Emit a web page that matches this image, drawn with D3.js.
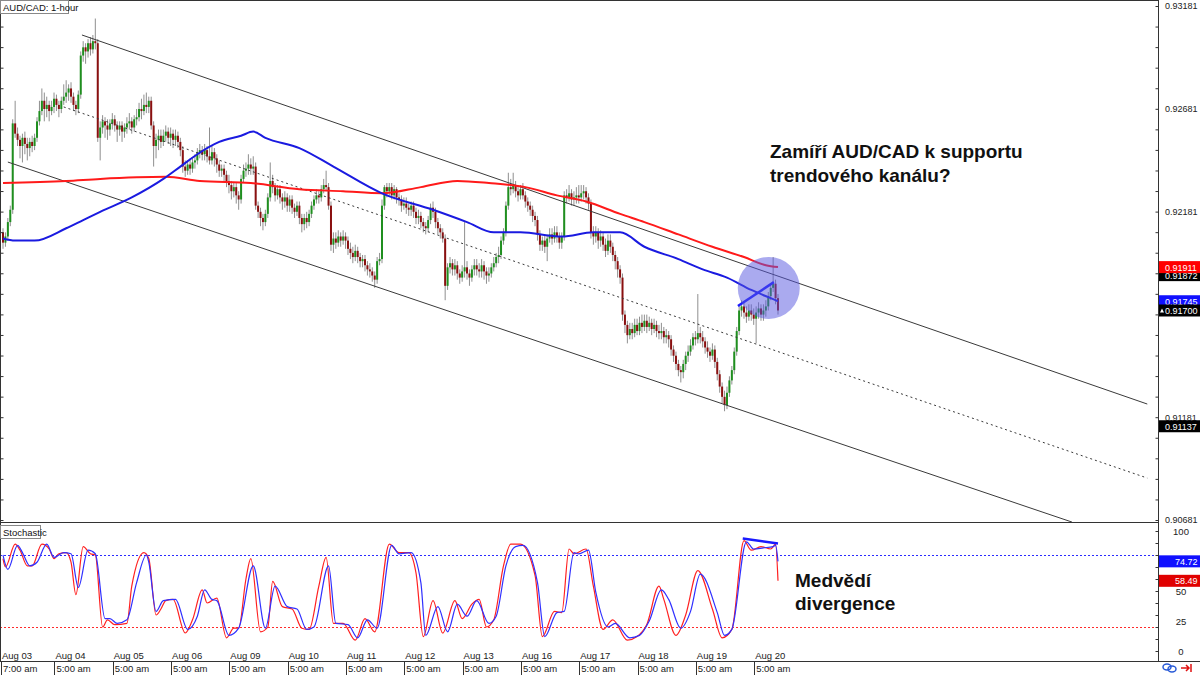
<!DOCTYPE html>
<html><head><meta charset="utf-8">
<script src="https://cdn.jsdelivr.net/npm/d3@7"></script>
<style>
body{margin:0;background:#fff}
svg{display:block}
.ax text,.lbl{font-family:'Liberation Sans',Arial,sans-serif;font-size:9.5px}
.ax text.num,.lbl.num{font-size:9px}
.note{font-family:'Liberation Sans',Arial,sans-serif;font-weight:bold;font-size:19px;fill:#111}
</style>
</head><body>
<svg id="c" width="1200" height="675"></svg>
<script>
// ---------- DATA (AUD/CAD 1-hour, candle index 0 = Aug 03 07:00) ----------
const open=[0.9208,0.9203,0.9206,0.9213,0.9219,0.9261,0.9256,0.9253,0.9250,0.9254,
0.9251,0.9249,0.9252,0.9250,0.9254,0.9262,0.9267,0.9272,0.9268,0.9270,
0.9267,0.9269,0.9273,0.9270,0.9268,0.9272,0.9274,0.9276,0.9278,0.9274,
0.9270,0.9268,0.9275,0.9294,0.9298,0.9296,0.9300,0.9297,0.9301,0.9300,
0.9254,0.9259,0.9262,0.9260,0.9258,0.9261,0.9263,0.9260,0.9258,0.9260,
0.9257,0.9259,0.9261,0.9262,0.9259,0.9263,0.9264,0.9268,0.9267,0.9270,
0.9269,0.9272,0.9260,0.9250,0.9253,0.9255,0.9252,0.9255,0.9257,0.9254,
0.9256,0.9253,0.9255,0.9252,0.9248,0.9240,0.9238,0.9241,0.9239,0.9242,
0.9243,0.9247,0.9248,0.9246,0.9248,0.9245,0.9243,0.9247,0.9244,0.9241,
0.9238,0.9239,0.9236,0.9233,0.9231,0.9228,0.9230,0.9226,0.9224,0.9234,
0.9238,0.9239,0.9241,0.9239,0.9240,0.9221,0.9218,0.9215,0.9213,0.9217,
0.9225,0.9233,0.9230,0.9226,0.9229,0.9225,0.9223,0.9225,0.9221,0.9224,
0.9220,0.9218,0.9221,0.9215,0.9212,0.9215,0.9213,0.9217,0.9221,0.9224,
0.9226,0.9225,0.9229,0.9231,0.9230,0.9221,0.9202,0.9205,0.9203,0.9206,
0.9204,0.9206,0.9204,0.9200,0.9198,0.9196,0.9199,0.9196,0.9194,0.9195,
0.9192,0.9190,0.9189,0.9187,0.9185,0.9194,0.9195,0.9221,0.9230,0.9228,
0.9230,0.9226,0.9229,0.9225,0.9224,0.9221,0.9222,0.9220,0.9219,0.9221,
0.9218,0.9215,0.9216,0.9213,0.9211,0.9210,0.9214,0.9220,0.9218,0.9213,
0.9210,0.9208,0.9205,0.9182,0.9191,0.9193,0.9190,0.9192,0.9188,0.9186,
0.9189,0.9191,0.9188,0.9186,0.9190,0.9192,0.9190,0.9189,0.9192,0.9189,
0.9187,0.9188,0.9191,0.9193,0.9196,0.9197,0.9204,0.9208,0.9221,0.9230,
0.9229,0.9231,0.9228,0.9226,0.9229,0.9226,0.9223,0.9221,0.9219,0.9216,
0.9214,0.9207,0.9202,0.9204,0.9201,0.9205,0.9207,0.9205,0.9208,0.9206,
0.9203,0.9206,0.9226,0.9225,0.9227,0.9224,0.9225,0.9226,0.9225,0.9227,
0.9228,0.9225,0.9222,0.9208,0.9206,0.9208,0.9204,0.9206,0.9202,0.9199,
0.9204,0.9201,0.9197,0.9194,0.9190,0.9186,0.9168,0.9163,0.9158,0.9161,
0.9159,0.9163,0.9160,0.9164,0.9162,0.9165,0.9162,0.9164,0.9161,0.9163,
0.9160,0.9159,0.9160,0.9157,0.9158,0.9156,0.9151,0.9148,0.9144,0.9141,
0.9140,0.9144,0.9148,0.9150,0.9153,0.9157,0.9156,0.9159,0.9157,0.9155,
0.9152,0.9150,0.9148,0.9151,0.9145,0.9139,0.9133,0.9128,0.9124,0.9130,
0.9136,0.9141,0.9150,0.9160,0.9170,0.9172,0.9169,0.9167,0.9170,0.9168,
0.9166,0.9169,0.9171,0.9168,0.9170,0.9172,0.9177,0.9181,0.9183,0.9176];

const close=[0.9203,0.9206,0.9213,0.9219,0.9261,0.9256,0.9253,0.9250,0.9254,0.9251,
0.9249,0.9252,0.9250,0.9254,0.9262,0.9267,0.9272,0.9268,0.9270,0.9267,
0.9269,0.9273,0.9270,0.9268,0.9272,0.9274,0.9276,0.9278,0.9274,0.9270,
0.9268,0.9275,0.9294,0.9298,0.9296,0.9300,0.9297,0.9301,0.9300,0.9254,
0.9259,0.9262,0.9260,0.9258,0.9261,0.9263,0.9260,0.9258,0.9260,0.9257,
0.9259,0.9261,0.9262,0.9259,0.9263,0.9264,0.9268,0.9267,0.9270,0.9269,
0.9272,0.9260,0.9250,0.9253,0.9255,0.9252,0.9255,0.9257,0.9254,0.9256,
0.9253,0.9255,0.9252,0.9248,0.9240,0.9238,0.9241,0.9239,0.9242,0.9243,
0.9247,0.9248,0.9246,0.9248,0.9245,0.9243,0.9247,0.9244,0.9241,0.9238,
0.9239,0.9236,0.9233,0.9231,0.9228,0.9230,0.9226,0.9224,0.9234,0.9238,
0.9239,0.9241,0.9239,0.9240,0.9221,0.9218,0.9215,0.9213,0.9217,0.9225,
0.9233,0.9230,0.9226,0.9229,0.9225,0.9223,0.9225,0.9221,0.9224,0.9220,
0.9218,0.9221,0.9215,0.9212,0.9215,0.9213,0.9217,0.9221,0.9224,0.9226,
0.9225,0.9229,0.9231,0.9230,0.9221,0.9202,0.9205,0.9203,0.9206,0.9204,
0.9206,0.9204,0.9200,0.9198,0.9196,0.9199,0.9196,0.9194,0.9195,0.9192,
0.9190,0.9189,0.9187,0.9185,0.9194,0.9195,0.9221,0.9230,0.9228,0.9230,
0.9226,0.9229,0.9225,0.9224,0.9221,0.9222,0.9220,0.9219,0.9221,0.9218,
0.9215,0.9216,0.9213,0.9211,0.9210,0.9214,0.9220,0.9218,0.9213,0.9210,
0.9208,0.9205,0.9182,0.9191,0.9193,0.9190,0.9192,0.9188,0.9186,0.9189,
0.9191,0.9188,0.9186,0.9190,0.9192,0.9190,0.9189,0.9192,0.9189,0.9187,
0.9188,0.9191,0.9193,0.9196,0.9197,0.9204,0.9208,0.9221,0.9230,0.9229,
0.9231,0.9228,0.9226,0.9229,0.9226,0.9223,0.9221,0.9219,0.9216,0.9214,
0.9207,0.9202,0.9204,0.9201,0.9205,0.9207,0.9205,0.9208,0.9206,0.9203,
0.9206,0.9226,0.9225,0.9227,0.9224,0.9225,0.9226,0.9225,0.9227,0.9228,
0.9225,0.9222,0.9208,0.9206,0.9208,0.9204,0.9206,0.9202,0.9199,0.9204,
0.9201,0.9197,0.9194,0.9190,0.9186,0.9168,0.9163,0.9158,0.9161,0.9159,
0.9163,0.9160,0.9164,0.9162,0.9165,0.9162,0.9164,0.9161,0.9163,0.9160,
0.9159,0.9160,0.9157,0.9158,0.9156,0.9151,0.9148,0.9144,0.9141,0.9140,
0.9144,0.9148,0.9150,0.9153,0.9157,0.9156,0.9159,0.9157,0.9155,0.9152,
0.9150,0.9148,0.9151,0.9145,0.9139,0.9133,0.9128,0.9124,0.9130,0.9136,
0.9141,0.9150,0.9160,0.9170,0.9172,0.9169,0.9167,0.9170,0.9168,0.9166,
0.9169,0.9171,0.9168,0.9170,0.9172,0.9177,0.9181,0.9183,0.9176,0.9170];

const high=[0.9210,0.9208,0.9215,0.9221,0.9263,0.9272,0.9259,0.9255,0.9256,0.9257,
0.9254,0.9254,0.9255,0.9256,0.9264,0.9272,0.9278,0.9276,0.9274,0.9272,
0.9272,0.9276,0.9275,0.9272,0.9274,0.9280,0.9282,0.9280,0.9281,0.9276,
0.9272,0.9277,0.9296,0.9301,0.9300,0.9302,0.9303,0.9304,0.9312,0.9302,
0.9262,0.9265,0.9264,0.9263,0.9263,0.9266,0.9265,0.9262,0.9262,0.9262,
0.9261,0.9264,0.9266,0.9264,0.9265,0.9268,0.9271,0.9273,0.9275,0.9276,
0.9274,0.9274,0.9262,0.9256,0.9258,0.9258,0.9258,0.9260,0.9259,0.9259,
0.9258,0.9258,0.9257,0.9254,0.9250,0.9243,0.9243,0.9244,0.9244,0.9246,
0.9249,0.9251,0.9250,0.9251,0.9250,0.9259,0.9250,0.9249,0.9246,0.9243,
0.9241,0.9241,0.9238,0.9236,0.9233,0.9232,0.9232,0.9228,0.9236,0.9241,
0.9242,0.9246,0.9244,0.9245,0.9242,0.9223,0.9220,0.9217,0.9219,0.9227,
0.9242,0.9236,0.9232,0.9231,0.9231,0.9227,0.9228,0.9227,0.9226,0.9226,
0.9222,0.9223,0.9223,0.9217,0.9217,0.9218,0.9219,0.9223,0.9226,0.9229,
0.9228,0.9231,0.9234,0.9238,0.9232,0.9223,0.9208,0.9208,0.9209,0.9208,
0.9209,0.9208,0.9206,0.9203,0.9201,0.9202,0.9201,0.9198,0.9197,0.9197,
0.9194,0.9193,0.9191,0.9189,0.9196,0.9198,0.9224,0.9231,0.9232,0.9232,
0.9232,0.9231,0.9230,0.9227,0.9226,0.9225,0.9225,0.9222,0.9223,0.9223,
0.9220,0.9219,0.9218,0.9215,0.9213,0.9216,0.9222,0.9223,0.9220,0.9215,
0.9212,0.9210,0.9207,0.9193,0.9196,0.9195,0.9195,0.9194,0.9190,0.9192,
0.9213,0.9194,0.9190,0.9192,0.9195,0.9195,0.9193,0.9195,0.9194,0.9191,
0.9191,0.9193,0.9196,0.9198,0.9201,0.9206,0.9210,0.9223,0.9237,0.9234,
0.9237,0.9233,0.9230,0.9231,0.9232,0.9228,0.9225,0.9223,0.9221,0.9218,
0.9216,0.9209,0.9206,0.9207,0.9207,0.9210,0.9210,0.9211,0.9211,0.9208,
0.9208,0.9228,0.9229,0.9231,0.9229,0.9228,0.9230,0.9231,0.9231,0.9231,
0.9230,0.9227,0.9224,0.9211,0.9211,0.9210,0.9209,0.9208,0.9205,0.9207,
0.9207,0.9203,0.9199,0.9196,0.9192,0.9188,0.9170,0.9165,0.9164,0.9164,
0.9166,0.9166,0.9167,0.9168,0.9168,0.9168,0.9167,0.9166,0.9166,0.9165,
0.9163,0.9164,0.9162,0.9161,0.9160,0.9158,0.9153,0.9150,0.9146,0.9143,
0.9146,0.9150,0.9153,0.9156,0.9159,0.9160,0.9178,0.9162,0.9160,0.9157,
0.9155,0.9152,0.9154,0.9153,0.9147,0.9141,0.9135,0.9131,0.9133,0.9138,
0.9143,0.9152,0.9162,0.9173,0.9175,0.9174,0.9172,0.9173,0.9173,0.9171,
0.9172,0.9174,0.9173,0.9173,0.9175,0.9179,0.9183,0.9196,0.9185,0.9178];

const low=[0.9200,0.9201,0.9204,0.9211,0.9217,0.9254,0.9250,0.9244,0.9242,0.9246,
0.9243,0.9245,0.9247,0.9248,0.9252,0.9260,0.9265,0.9262,0.9264,0.9262,
0.9265,0.9266,0.9267,0.9264,0.9266,0.9270,0.9271,0.9272,0.9271,0.9267,
0.9265,0.9266,0.9273,0.9291,0.9290,0.9293,0.9294,0.9295,0.9297,0.9252,
0.9243,0.9256,0.9254,0.9253,0.9255,0.9258,0.9257,0.9252,0.9255,0.9252,
0.9254,0.9256,0.9258,0.9256,0.9257,0.9260,0.9262,0.9263,0.9265,0.9266,
0.9266,0.9258,0.9240,0.9244,0.9248,0.9249,0.9250,0.9252,0.9251,0.9250,
0.9249,0.9250,0.9249,0.9245,0.9237,0.9235,0.9236,0.9236,0.9237,0.9239,
0.9241,0.9244,0.9243,0.9243,0.9242,0.9241,0.9241,0.9240,0.9237,0.9235,
0.9235,0.9233,0.9230,0.9227,0.9224,0.9225,0.9222,0.9219,0.9222,0.9232,
0.9235,0.9236,0.9236,0.9236,0.9219,0.9215,0.9211,0.9209,0.9211,0.9215,
0.9223,0.9227,0.9223,0.9224,0.9222,0.9219,0.9220,0.9218,0.9218,0.9217,
0.9215,0.9216,0.9212,0.9208,0.9209,0.9210,0.9211,0.9215,0.9219,0.9222,
0.9222,0.9223,0.9227,0.9228,0.9219,0.9199,0.9198,0.9200,0.9201,0.9201,
0.9202,0.9200,0.9197,0.9195,0.9193,0.9194,0.9193,0.9191,0.9191,0.9189,
0.9187,0.9186,0.9184,0.9181,0.9183,0.9192,0.9193,0.9219,0.9225,0.9226,
0.9224,0.9224,0.9222,0.9221,0.9218,0.9219,0.9217,0.9216,0.9216,0.9215,
0.9212,0.9212,0.9210,0.9208,0.9207,0.9208,0.9212,0.9215,0.9210,0.9207,
0.9205,0.9203,0.9175,0.9180,0.9188,0.9187,0.9187,0.9185,0.9183,0.9184,
0.9186,0.9185,0.9182,0.9184,0.9187,0.9187,0.9186,0.9186,0.9185,0.9183,
0.9184,0.9186,0.9189,0.9191,0.9193,0.9195,0.9202,0.9206,0.9219,0.9226,
0.9227,0.9225,0.9223,0.9224,0.9224,0.9220,0.9218,0.9216,0.9213,0.9211,
0.9204,0.9199,0.9199,0.9198,0.9194,0.9203,0.9202,0.9203,0.9203,0.9200,
0.9200,0.9204,0.9222,0.9223,0.9221,0.9221,0.9222,0.9222,0.9223,0.9224,
0.9222,0.9219,0.9205,0.9202,0.9203,0.9200,0.9201,0.9199,0.9196,0.9197,
0.9198,0.9194,0.9190,0.9186,0.9183,0.9165,0.9159,0.9154,0.9156,0.9156,
0.9157,0.9158,0.9158,0.9159,0.9160,0.9159,0.9160,0.9158,0.9159,0.9157,
0.9156,0.9156,0.9154,0.9154,0.9152,0.9148,0.9145,0.9141,0.9138,0.9135,
0.9137,0.9141,0.9145,0.9148,0.9151,0.9153,0.9154,0.9154,0.9152,0.9149,
0.9147,0.9145,0.9146,0.9142,0.9136,0.9130,0.9125,0.9121,0.9122,0.9128,
0.9134,0.9139,0.9148,0.9158,0.9167,0.9166,0.9164,0.9165,0.9165,0.9163,
0.9154,0.9166,0.9165,0.9165,0.9167,0.9170,0.9175,0.9179,0.9173,0.9168];

// moving averages (sampled at candle indices)
const maBlueIdx=[0,5,13,26,33,40,53,66,73,80,89,98,103,108,122,136,156,177,191,202,213,230,243,254,264,278,288,298,308,316,319];
const maBlueVal=[0.9205,0.9204,0.9204,0.9210,0.9214,0.9218,0.9225,0.9234,0.9240,0.9246,0.9252,0.9255,0.9257,0.9254,0.9249,0.9240,0.9227,0.9219,0.9213,0.9208,0.9208,0.9206,0.9208,0.9208,0.9201,0.9195,0.9190,0.9186,0.9180,0.9176,0.91745];
const maRedIdx=[0,26,40,67,81,102,122,140,156,172,187,200,215,228,240,254,264,278,292,305,314,319];
const maRedVal=[0.9232,0.9233,0.9234,0.9235,0.9233,0.9232,0.9229,0.9228,0.9227,0.9230,0.9233,0.9232,0.9230,0.9226,0.9223,0.9217,0.9213,0.9207,0.9201,0.9196,0.9192,0.91911];

// stochastic %K (red) and %D (blue), sampled at candle indices
const stochKIdx=[0,1,5,7,10,12,16,19,21,23,26,28,30,33,36,38,41,43,46,51,53,58,60,63,65,67,70,75,78,82,84,88,92,95,97,100,102,106,109,111,115,119,123,126,130,133,136,140,145,149,153,159,163,167,170,173,177,181,186,189,193,196,199,202,206,209,213,219,222,227,230,233,235,240,243,247,251,257,261,265,270,272,277,281,286,292,296,300,305,308,312,316,318,319];
const stochKVal=[77,70,89,84,71,71,89,85,77,81,82,74,47,87,81,80,20,26,22,23,54,82,77,30,35,42,43,15,26,51,40,44,11,19,19,60,77,16,20,58,37,35,19,18,54,78,23,23,9,27,16,89,82,82,65,12,42,15,42,27,39,43,20,26,71,89,89,63,12,33,32,85,81,85,54,18,26,9,12,22,54,43,13,30,67,35,11,18,92,84,87,85,89,58.49];
const stochDIdx=[0,2,6,8,11,14,18,21,25,28,31,35,38,42,44,47,51,55,59,60,63,66,71,76,80,83,86,88,93,97,103,108,112,117,121,125,128,134,137,142,146,150,154,160,163,168,172,174,179,183,187,191,195,200,203,207,211,214,220,223,228,231,235,237,241,244,249,252,258,262,266,271,274,279,283,287,294,297,300,306,309,313,317,318,319];
const stochDVal=[80,68,88,82,71,74,89,78,82,81,53,84,81,27,27,23,26,57,80,74,33,42,43,18,29,51,43,42,13,19,71,19,54,37,35,18,20,71,23,22,11,26,19,88,81,82,57,13,37,16,39,29,42,23,29,71,87,88,57,12,32,33,82,81,84,49,20,23,11,13,25,51,43,19,33,64,32,13,18,91,85,86,87,88,74.72];

// trend channel (candle index, price)
const channelUpper=[[32.5,0.93040],[471,0.91245]];
const channelLower=[[2,0.92422],[440,0.90671]];
const channelMid=[[25,0.92690],[471,0.90885]];
const priceTrend=[[302.5,0.91722],[317.3,0.91838]];
const stochTrend=[[304.5,93.7],[319,89.5]];
const circleCenter=[315.2,0.9181];

// axes
const dayIdx=[0,22,46,70,94,118,142,166,190,214,238,262,286,310];
const dayLabels=["Aug 03","Aug 04","Aug 05","Aug 06","Aug 09","Aug 10","Aug 11","Aug 12","Aug 13","Aug 16","Aug 17","Aug 18","Aug 19","Aug 20"];
const timeLabels=["7:00 am","5:00 am","5:00 am","5:00 am","5:00 am","5:00 am","5:00 am","5:00 am","5:00 am","5:00 am","5:00 am","5:00 am","5:00 am","5:00 am"];
const priceTickLabels=[0.93181,0.92681,0.92181,0.91181,0.90681];
const stochTickLabels=[100,50,25,0];
const priceMarkers=[0.91872,0.91911,0.91745,0.91700,0.91137];
const priceMarkerColors=["#000","#ff0000","#1010ff","#000","#000"];
const stochMarkers=[74.72,58.49];
const stochMarkerColors=["#1010ff","#e00000"];
const stochLevels=[80,20];
const stochLevelColors=["#2b2bff","#ff2b2b"];

// ---------- DRAW ----------
const svg=d3.select("#c");
const PR=1158, MB=522, ST=523, SB=661;
const x=d3.scaleLinear().domain([0,319]).range([3,778]);
const y=d3.scaleLinear().domain([0.90681,0.93181]).range([520,6]);
const ys=d3.scaleLinear().domain([0,100]).range([651,531]);

svg.append("rect").attr("width",1200).attr("height",675).attr("fill","#fff");
const defs=svg.append("defs");
defs.append("clipPath").attr("id","cm").append("rect").attr("x",0).attr("y",0).attr("width",PR).attr("height",MB);
defs.append("clipPath").attr("id","cs").append("rect").attr("x",0).attr("y",ST).attr("width",PR).attr("height",SB-ST);

const gm=svg.append("g").attr("clip-path","url(#cm)");
const gs=svg.append("g").attr("clip-path","url(#cs)");

// candles
const idx=d3.range(open.length);
gm.append("g").selectAll("line").data(idx).join("line")
  .attr("x1",i=>x(i)).attr("x2",i=>x(i)).attr("y1",i=>y(high[i])).attr("y2",i=>y(low[i]))
  .attr("stroke","#8f8f8f").attr("stroke-width",1);
gm.append("g").selectAll("rect").data(idx).join("rect")
  .attr("x",i=>x(i)-1).attr("width",2)
  .attr("y",i=>y(Math.max(open[i],close[i])))
  .attr("height",i=>Math.max(1,Math.abs(y(open[i])-y(close[i]))))
  .attr("fill",i=>close[i]>=open[i]?"#1f8f1f":"#8a1010");

// channel lines
const seg=d3.line().x(d=>x(d[0])).y(d=>y(d[1]));
gm.append("path").attr("d",seg(channelUpper)).attr("stroke","#3a3a3a").attr("fill","none").attr("stroke-width",1);
gm.append("path").attr("d",seg(channelLower)).attr("stroke","#3a3a3a").attr("fill","none").attr("stroke-width",1);
gm.append("path").attr("d",seg(channelMid)).attr("stroke","#3a3a3a").attr("fill","none").attr("stroke-width",1).attr("stroke-dasharray","2,3");

// moving averages
const ma=d3.line().x(d=>x(d[0])).y(d=>y(d[1])).curve(d3.curveMonotoneX);
gm.append("path").attr("d",ma(d3.zip(maRedIdx,maRedVal))).attr("stroke","#ff1a1a").attr("fill","none").attr("stroke-width",2);
gm.append("path").attr("d",ma(d3.zip(maBlueIdx,maBlueVal))).attr("stroke","#1a1ae0").attr("fill","none").attr("stroke-width",2);

// price trendline + circle
gm.append("path").attr("d",seg(priceTrend)).attr("stroke","#1a1aff").attr("stroke-width",2.5).attr("fill","none");
gm.append("circle").attr("cx",x(circleCenter[0])).attr("cy",y(circleCenter[1])).attr("r",31)
  .attr("fill","#5555e0").attr("fill-opacity",0.5);

// stochastic
stochLevels.forEach((lv,k)=>{
  gs.append("line").attr("x1",0).attr("x2",PR).attr("y1",Math.round(ys(lv))+0.5).attr("y2",Math.round(ys(lv))+0.5)
    .attr("stroke",stochLevelColors[k]).attr("stroke-dasharray","2,2").attr("stroke-width",1);
});
const sl=d3.line().x(d=>x(d[0])).y(d=>ys(d[1])).curve(d3.curveMonotoneX);
gs.append("path").attr("d",sl(d3.zip(stochKIdx,stochKVal))).attr("stroke","#ff2020").attr("fill","none").attr("stroke-width",1.2);
gs.append("path").attr("d",sl(d3.zip(stochDIdx,stochDVal))).attr("stroke","#3030ff").attr("fill","none").attr("stroke-width",1.2);
gs.append("path").attr("d",d3.line().x(d=>x(d[0])).y(d=>ys(d[1]))(stochTrend)).attr("stroke","#1a1aff").attr("stroke-width",2.5).attr("fill","none");

// frame lines
svg.append("line").attr("x1",0).attr("x2",PR).attr("y1",0.5).attr("y2",0.5).attr("stroke","#333");
svg.append("line").attr("x1",0.5).attr("x2",0.5).attr("y1",0).attr("y2",SB).attr("stroke","#333");
svg.append("line").attr("x1",0).attr("x2",PR).attr("y1",MB+0.5).attr("y2",MB+0.5).attr("stroke","#333");
svg.append("line").attr("x1",0).attr("x2",1200).attr("y1",SB+0.5).attr("y2",SB+0.5).attr("stroke","#333");
svg.append("line").attr("x1",PR+0.5).attr("x2",PR+0.5).attr("y1",0).attr("y2",SB).attr("stroke","#333");

// price axis: minor ticks + labels
const minorPrice=d3.range(26).map(k=>0.90681+k*0.001);
svg.append("g").attr("class","ax").attr("transform",`translate(${PR+0.5},0)`)
  .call(d3.axisLeft(y).tickValues(minorPrice).tickSize(3).tickFormat(""))
  .call(g=>g.select(".domain").remove()).selectAll("line").attr("stroke","#333");
svg.append("g").attr("class","ax").attr("transform",`translate(0.5,0)`)
  .call(d3.axisRight(y).tickValues(minorPrice).tickSize(3).tickFormat(""))
  .call(g=>g.select(".domain").remove()).selectAll("line").attr("stroke","#333");
svg.append("g").attr("class","ax").attr("transform",`translate(${PR},0)`)
  .call(d3.axisRight(y).tickValues(priceTickLabels).tickSize(0).tickPadding(7).tickFormat(d3.format(".5f")))
  .call(g=>g.select(".domain").remove()).selectAll("text").attr("class","num").attr("fill","#222");

// stochastic axis
svg.append("g").attr("class","ax").attr("transform",`translate(${PR+0.5},0)`)
  .call(d3.axisLeft(ys).tickValues(d3.range(0,101,10)).tickSize(3).tickFormat(""))
  .call(g=>g.select(".domain").remove()).selectAll("line").attr("stroke","#333");
svg.append("g").attr("class","ax").attr("transform",`translate(${PR},0)`)
  .call(d3.axisRight(ys).tickValues(stochTickLabels).tickSize(0).tickPadding(23))
  .call(g=>g.select(".domain").remove()).selectAll("text").attr("fill","#222").attr("text-anchor","middle");

// value markers
function marker(v,scale,col,tx,dec){
  const cy=scale(v);
  svg.append("rect").attr("x",PR+1).attr("y",cy-6).attr("width",1200-PR-1).attr("height",12).attr("fill",col);
  svg.append("text").attr("class","lbl num").attr("x",tx).attr("y",cy+3.5).attr("fill","#fff").text(v.toFixed(dec));
}
priceMarkers.forEach((v,i)=>marker(v,y,priceMarkerColors[i],1165,5));
svg.append("path").attr("d",`M${PR+2},${y(0.917)+2} l2,-4 l2,4 z`).attr("fill","#fff");
stochMarkers.forEach((v,i)=>marker(v,ys,stochMarkerColors[i],1175,2));

// x axis labels
svg.append("g").attr("class","ax").selectAll("text").data(dayIdx).join("text")
  .attr("x",i=>Math.max(2,x(i)-1)).attr("y",659).attr("fill","#222").text((d,i)=>dayLabels[i]);
svg.append("g").selectAll("line").data(dayIdx).join("line")
  .attr("x1",i=>Math.max(0.5,Math.round(x(i)-2)+0.5)).attr("x2",i=>Math.max(0.5,Math.round(x(i)-2)+0.5))
  .attr("y1",SB).attr("y2",675).attr("stroke","#333");
svg.append("g").attr("class","ax").selectAll("text").data(dayIdx).join("text")
  .attr("x",i=>Math.max(2,x(i))).attr("y",672).attr("fill","#222").text((d,i)=>timeLabels[i]);

// titles
svg.append("rect").attr("x",0.5).attr("y",0.5).attr("width",68).attr("height",13).attr("fill","#fff").attr("stroke","#888");
svg.append("text").attr("class","lbl").attr("x",3).attr("y",10.5).attr("fill","#111").text("AUD/CAD: 1-hour");
svg.append("rect").attr("x",0.5).attr("y",ST+2.5).attr("width",40).attr("height",13).attr("fill","#fff").attr("stroke","#888");
svg.append("text").attr("class","lbl").attr("x",3).attr("y",ST+12.5).attr("fill","#111").text("Stochastic");

// annotations
const n1=svg.append("text").attr("class","note").attr("x",770).attr("y",158);
n1.append("tspan").attr("x",770).text("Zamíří AUD/CAD k supportu");
n1.append("tspan").attr("x",770).attr("dy",24).text("trendového kanálu?");
const n2=svg.append("text").attr("class","note").attr("x",795).attr("y",587);
n2.append("tspan").attr("x",795).text("Medvědí");
n2.append("tspan").attr("x",795).attr("dy",23).text("divergence");

// bottom-right icons
svg.append("ellipse").attr("cx",1167).attr("cy",667).attr("rx",4).attr("ry",3).attr("fill","none").attr("stroke","#2a5bd7").attr("stroke-width",1.5);
svg.append("ellipse").attr("cx",1172).attr("cy",669).attr("rx",4).attr("ry",3).attr("fill","none").attr("stroke","#2a5bd7").attr("stroke-width",1.5);
svg.append("path").attr("d","M1181,668 h8 M1186,665 l3,3 l-3,3 M1191,664 v8").attr("stroke","#e01010").attr("stroke-width",1.5).attr("fill","none");
</script>
</body></html>
